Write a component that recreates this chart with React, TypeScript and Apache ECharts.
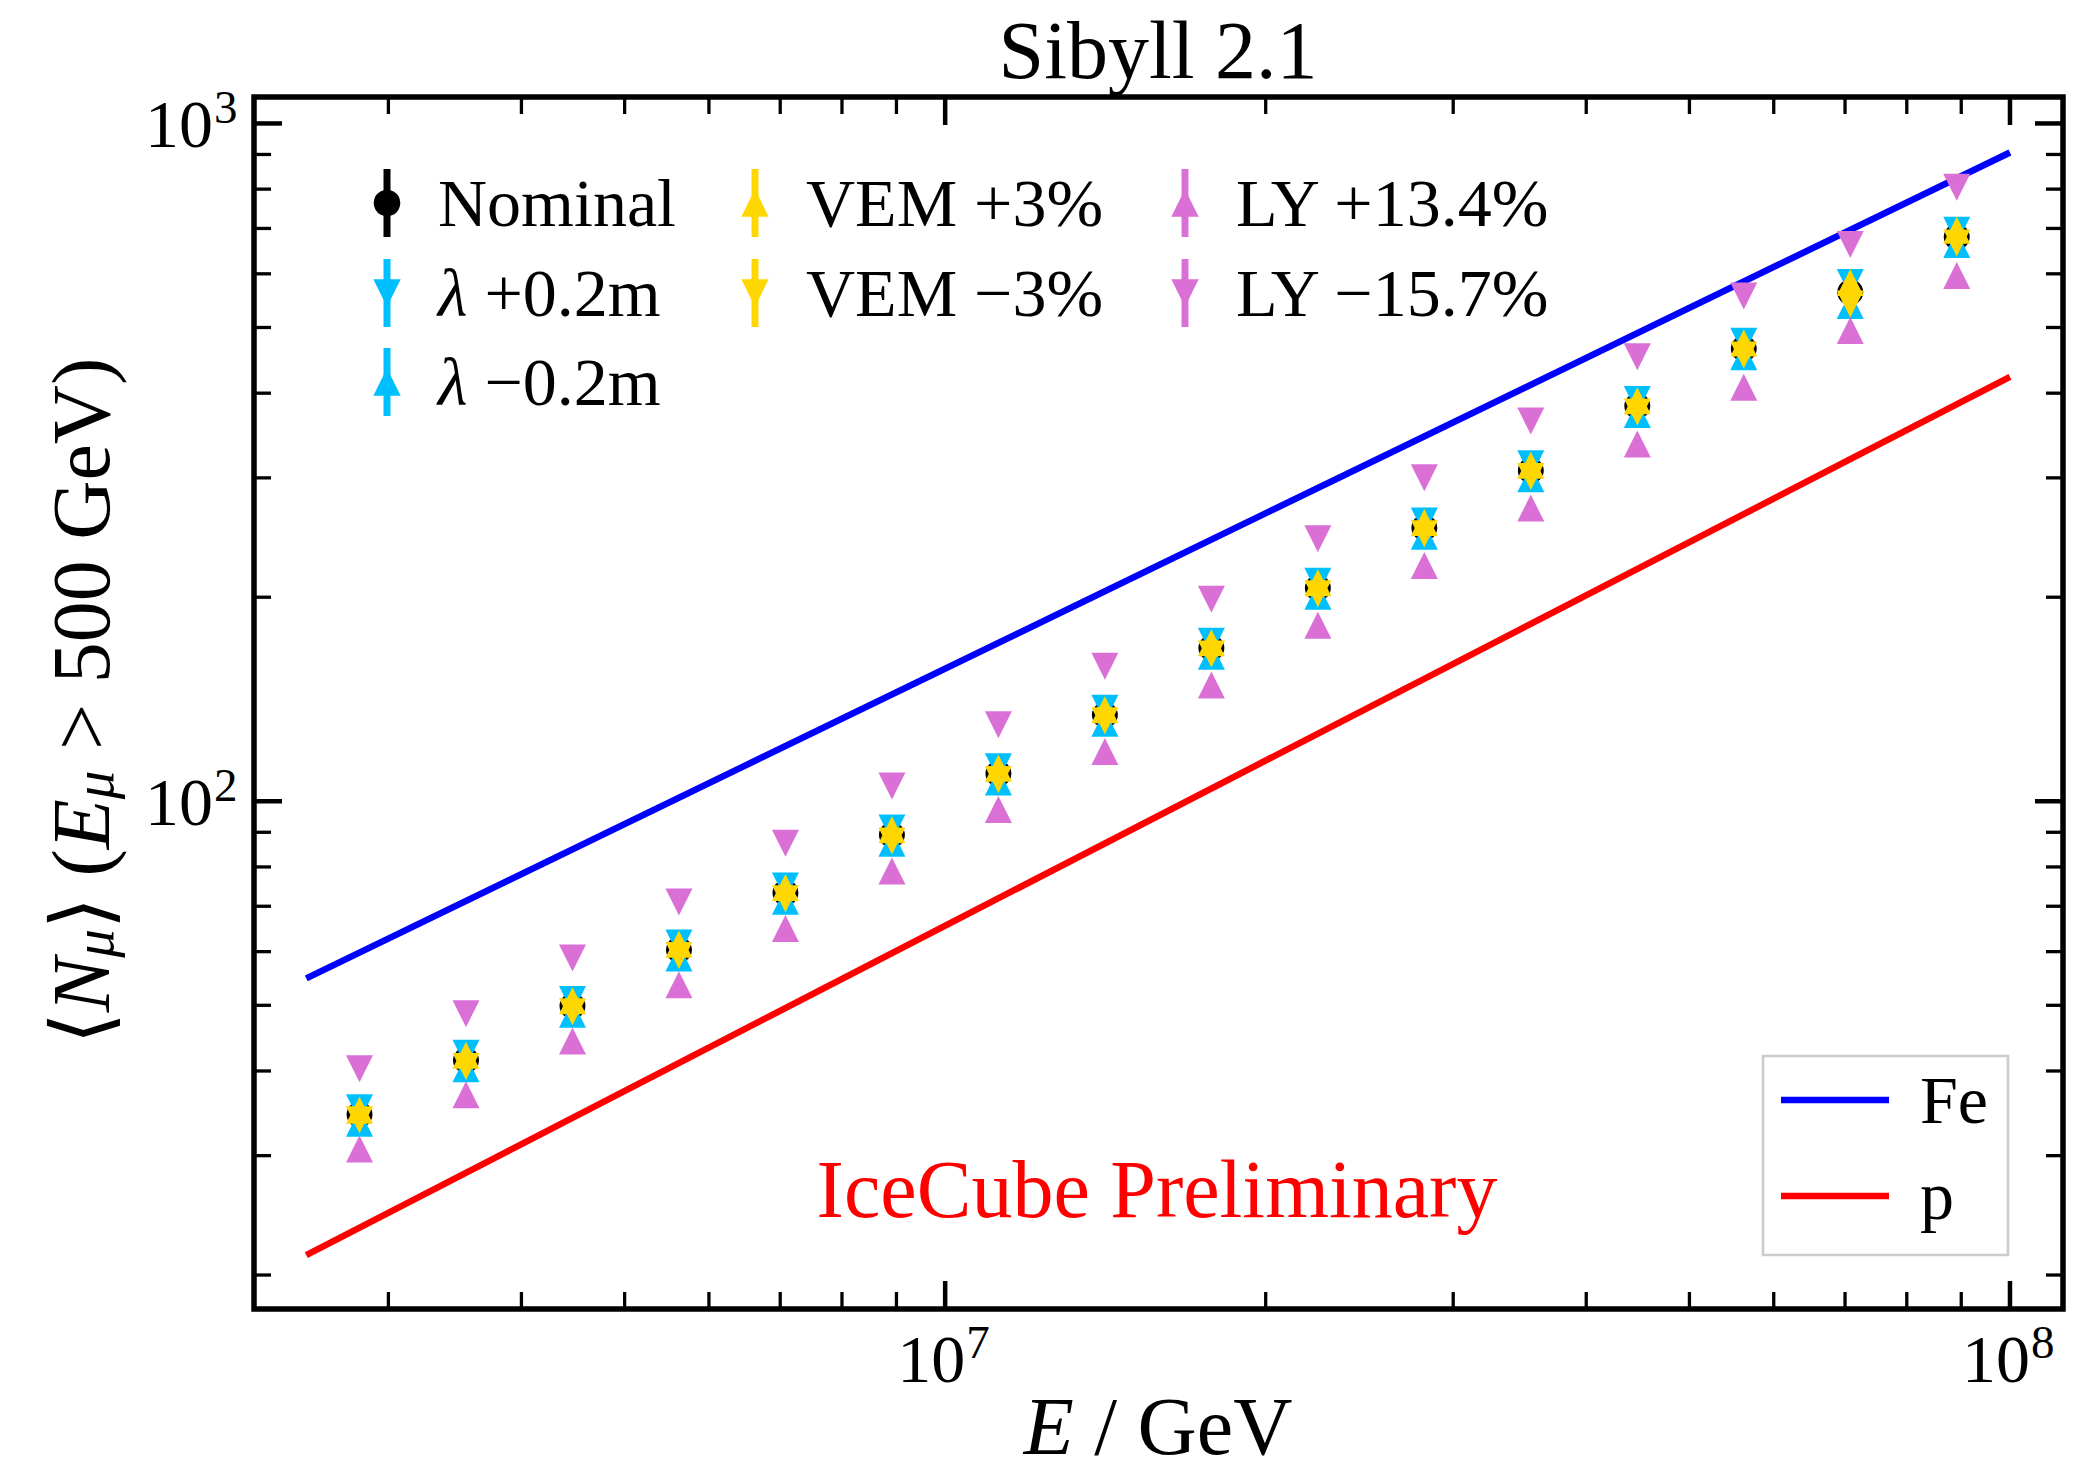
import React, { useEffect, useRef } from 'react';
import * as echarts from 'echarts';

// Primary energy bin centres, GeV
const energyGeV = [2818383, 3548134, 4466836, 5623413, 7079458, 8912509, 11220185, 14125375, 17782794, 22387211, 28183829, 35481339, 44668359, 56234133, 70794578, 89125094];

// Mean muon number <N_mu> (E_mu > 500 GeV) per bin
const nominal = [34.5, 41.5, 49.9, 60.4, 73.3, 89.2, 109.9, 134.1, 168.3, 206.4, 253.2, 307.6, 382.8, 465.6, 563.6, 680.0];
const lambdaPlus = [35.3, 42.5, 51.0, 61.8, 75.0, 91.3, 112.4, 137.2, 172.2, 211.1, 259.0, 314.7, 391.6, 477.2, 582.8, 695.6];
const lambdaMinus = [33.5, 40.3, 48.5, 58.7, 71.2, 86.7, 106.8, 130.3, 163.6, 200.6, 246.1, 299.0, 372.1, 452.6, 538.8, 663.0];
const vemPlus = [35.0, 42.2, 50.8, 61.5, 74.6, 90.8, 111.9, 136.5, 171.3, 210.1, 257.8, 313.1, 389.7, 474.4, 582.8, 695.6];
const vemMinus = [33.9, 40.6, 48.9, 59.2, 71.8, 87.4, 107.7, 131.4, 164.9, 202.3, 248.1, 301.4, 375.1, 455.4, 541.6, 666.4];
const lyPlus = [30.7, 36.9, 44.3, 53.6, 64.9, 78.9, 97.2, 118.4, 148.4, 181.8, 222.8, 270.7, 336.5, 408.3, 494.8, 596.4];
const lyMinus = [40.3, 48.6, 58.7, 71.0, 86.7, 105.3, 129.7, 158.2, 198.6, 244.0, 300.0, 363.9, 452.5, 556.4, 662.8, 805.1];

// Sibyll 2.1 expectations for pure iron and pure proton primaries
const modelEnergy = [2511886, 100000000];
const ironNmu = [54.8, 906];
const protonNmu = [21.4, 422.8];

// Tick positions (major ticks at the decades)
const xTickValues = [3e6, 4e6, 5e6, 6e6, 7e6, 8e6, 9e6, 1e7, 2e7, 3e7, 4e7, 5e7, 6e7, 7e7, 8e7, 9e7, 1e8];
const yTickValues = [20, 30, 40, 50, 60, 70, 80, 90, 100, 200, 300, 400, 500, 600, 700, 800, 900, 1000];

const X_MIN = 2.2434e6;
const X_MAX = 1.1215e8;
const Y_MIN = 17.82;
const Y_MAX = 1094;

const SERIF = "'Liberation Serif', 'Times New Roman', 'DejaVu Serif', serif";

const tok = (size: number, italic: boolean, lineHeight: number, va?: string, fill = '#000') => ({
  font: `${italic ? 'italic ' : ''}${size}px ${SERIF}`,
  fontSize: size,
  fontFamily: SERIF,
  fontStyle: italic ? 'italic' : 'normal',
  lineHeight,
  verticalAlign: va,
  fill,
  color: fill,
});

const labelRich = {
  r: tok(82, false, 82),
  i: tok(82, true, 82),
  sub: tok(57, true, 40, 'bottom'),
};

const xLabelRich = {
  r: tok(82, false, 60),
  i: tok(82, true, 60),
};

const legendRich = {
  r: tok(68, false, 68),
  i: tok(68, true, 68),
};

const isDecade = (v: number) => Math.abs(Math.log10(v) - Math.round(Math.log10(v))) < 1e-9;

type Marker = 'circle' | 'up' | 'down';
const legendEntries: { text: string; color: string; marker: Marker; col: number; row: number }[] = [
  { text: '{r|Nominal}', color: '#000000', marker: 'circle', col: 0, row: 0 },
  { text: '{i|λ}{r| +0.2m}', color: '#00BFFF', marker: 'down', col: 0, row: 1 },
  { text: '{i|λ}{r| −0.2m}', color: '#00BFFF', marker: 'up', col: 0, row: 2 },
  { text: '{r|VEM +3%}', color: '#FFD700', marker: 'up', col: 1, row: 0 },
  { text: '{r|VEM −3%}', color: '#FFD700', marker: 'down', col: 1, row: 1 },
  { text: '{r|LY +13.4%}', color: '#DA70D6', marker: 'up', col: 2, row: 0 },
  { text: '{r|LY −15.7%}', color: '#DA70D6', marker: 'down', col: 2, row: 1 },
];
const legendColX = [387, 755, 1185];
const legendRowY = [203, 293, 382];

function legendGraphics() {
  const els: any[] = [];
  legendEntries.forEach((e) => {
    const cx = legendColX[e.col];
    const cy = legendRowY[e.row];
    els.push({
      type: 'rect',
      shape: { x: cx - 3.5, y: cy - 34, width: 7, height: 68 },
      style: { fill: e.color },
      silent: true,
    });
    if (e.marker === 'circle') {
      els.push({ type: 'circle', shape: { cx, cy, r: 13.3 }, style: { fill: e.color }, silent: true });
    } else {
      const h = 13.7;
      const pts = e.marker === 'up'
        ? [[cx, cy - h], [cx + h, cy + h], [cx - h, cy + h]]
        : [[cx - h, cy - h], [cx + h, cy - h], [cx, cy + h]];
      els.push({ type: 'polygon', shape: { points: pts }, style: { fill: e.color }, silent: true });
    }
    els.push({
      type: 'text',
      x: cx + 51,
      y: cy,
      style: {
        text: e.text,
        x: 0,
        y: 0,
        align: 'left',
        textAlign: 'left',
        verticalAlign: 'middle',
        textVerticalAlign: 'middle',
        rich: legendRich,
        fill: '#000',
      },
      silent: true,
    });
  });

  // Composition reference legend (Fe / p)
  els.push({
    type: 'rect',
    shape: { x: 1763, y: 1056, width: 245, height: 199 },
    style: { fill: '#ffffff', stroke: '#cccccc', lineWidth: 2.7 },
    silent: true,
    z: 20,
  });
  const comp = [
    { name: 'Fe', color: '#0000FF', y: 1100 },
    { name: 'p', color: '#FF0000', y: 1196 },
  ];
  comp.forEach((c) => {
    els.push({
      type: 'line',
      shape: { x1: 1781, y1: c.y, x2: 1889, y2: c.y },
      style: { stroke: c.color, lineWidth: 6.5 },
      silent: true,
      z: 21,
    });
    els.push({
      type: 'text',
      x: 1920,
      y: c.y,
      style: {
        text: `{r|${c.name}}`,
        x: 0,
        y: 0,
        align: 'left',
        textAlign: 'left',
        verticalAlign: 'middle',
        textVerticalAlign: 'middle',
        rich: legendRich,
        fill: '#000',
      },
      silent: true,
      z: 21,
    });
  });
  return els;
}

function textGraphics() {
  return [
    {
      type: 'text',
      x: 1158,
      y: 50,
      style: {
        text: '{r|Sibyll 2.1}',
        x: 0, y: 0,
        align: 'center', textAlign: 'center',
        verticalAlign: 'middle', textVerticalAlign: 'middle',
        rich: labelRich, fill: '#000',
      },
      silent: true,
    },
    {
      type: 'text',
      x: 1157,
      y: 1189,
      style: {
        text: '{r|IceCube Preliminary}',
        x: 0, y: 0,
        align: 'center', textAlign: 'center',
        verticalAlign: 'middle', textVerticalAlign: 'middle',
        rich: { r: tok(82, false, 82, undefined, '#FF0000') },
        fill: '#FF0000',
      },
      silent: true,
    },
    {
      type: 'text',
      x: 1158,
      y: 1426,
      style: {
        text: '{i|E}{r| / GeV}',
        x: 0, y: 0,
        align: 'center', textAlign: 'center',
        verticalAlign: 'middle', textVerticalAlign: 'middle',
        rich: xLabelRich, fill: '#000',
      },
      silent: true,
    },
    {
      type: 'text',
      x: 81,
      y: 701,
      rotation: Math.PI / 2,
      style: {
        text: '{r|⟨}{i|N}{sub|μ}{r|⟩ (}{i|E}{sub|μ}{r| > 500 GeV)}',
        x: 0, y: 0,
        align: 'center', textAlign: 'center',
        verticalAlign: 'middle', textVerticalAlign: 'middle',
        rich: labelRich, fill: '#000',
      },
      silent: true,
    },
  ];
}

function tickLine(x1: number, y1: number, x2: number, y2: number, major: boolean) {
  return {
    type: 'line',
    shape: { x1, y1, x2, y2 },
    style: { stroke: '#000', lineWidth: major ? 4.5 : 3.3 },
  };
}

// "10" with the exponent as a raised, smaller number; (xr, y) is the right end of the
// mantissa and the vertical centre of its digits
function decadeLabel(v: number, xr: number, y: number) {
  const exp = String(Math.round(Math.log10(v)));
  return [
    {
      type: 'text',
      style: {
        text: '10', x: xr, y,
        font: `68px ${SERIF}`, fontSize: 68, fontFamily: SERIF,
        align: 'right', textAlign: 'right',
        verticalAlign: 'middle', textVerticalAlign: 'middle',
        fill: '#000',
      },
    },
    {
      type: 'text',
      style: {
        text: exp, x: xr + 1, y: y - 17,
        font: `47px ${SERIF}`, fontSize: 47, fontFamily: SERIF,
        align: 'left', textAlign: 'left',
        verticalAlign: 'middle', textVerticalAlign: 'middle',
        fill: '#000',
      },
    },
  ];
}

function scatter(name: string, values: number[], color: string, symbol: string, rotate: number, size: number) {
  return {
    type: 'scatter',
    name,
    data: energyGeV.map((e, i) => [e, values[i]]),
    symbol,
    symbolSize: size,
    symbolRotate: rotate,
    itemStyle: { color, opacity: 1 },
    z: 3,
    silent: true,
  };
}

export default function App() {
  const ref = useRef<HTMLDivElement>(null);

  useEffect(() => {
    if (!ref.current) return;
    const chart = echarts.init(ref.current, undefined, { renderer: 'svg' });

    const option: any = {
      animation: false,
      backgroundColor: '#ffffff',
      grid: {
        left: 254,
        right: 32,
        top: 97,
        bottom: 164,
        show: true,
        borderColor: '#000',
        borderWidth: 5.5,
        backgroundColor: 'transparent',
        containLabel: false,
        outerBoundsMode: 'none',
      },
      xAxis: {
        type: 'log',
        logBase: 10,
        min: X_MIN,
        max: X_MAX,
        axisLine: { show: false },
        axisTick: { show: false },
        axisLabel: { show: false },
        splitLine: { show: false },
        minorTick: { show: false },
        minorSplitLine: { show: false },
      },
      yAxis: {
        type: 'log',
        logBase: 10,
        min: Y_MIN,
        max: Y_MAX,
        axisLine: { show: false },
        axisTick: { show: false },
        axisLabel: { show: false },
        splitLine: { show: false },
        minorTick: { show: false },
        minorSplitLine: { show: false },
      },
      graphic: { elements: [...textGraphics(), ...legendGraphics()] },
      series: [
        {
          type: 'line',
          name: 'Fe',
          data: modelEnergy.map((e, i) => [e, ironNmu[i]]),
          showSymbol: false,
          symbol: 'none',
          lineStyle: { color: '#0000FF', width: 6.5 },
          z: 1,
          silent: true,
        },
        {
          type: 'line',
          name: 'p',
          data: modelEnergy.map((e, i) => [e, protonNmu[i]]),
          showSymbol: false,
          symbol: 'none',
          lineStyle: { color: '#FF0000', width: 6.5 },
          z: 1,
          silent: true,
        },
        scatter('Nominal', nominal, '#000000', 'circle', 0, 26),
        scatter('λ +0.2m', lambdaPlus, '#00BFFF', 'triangle', 180, 27),
        scatter('λ −0.2m', lambdaMinus, '#00BFFF', 'triangle', 0, 27),
        scatter('VEM +3%', vemPlus, '#FFD700', 'triangle', 0, 27),
        scatter('VEM −3%', vemMinus, '#FFD700', 'triangle', 180, 27),
        scatter('LY +13.4%', lyPlus, '#DA70D6', 'triangle', 0, 27),
        scatter('LY −15.7%', lyMinus, '#DA70D6', 'triangle', 180, 27),
        {
          type: 'custom',
          name: 'x ticks',
          data: xTickValues.map((v) => [v, Y_MIN]),
          clip: false,
          silent: true,
          z: 10,
          renderItem: (params: any, api: any) => {
            const v = api.value(0);
            const cs = params.coordSys;
            const x = api.coord([v, Y_MIN])[0];
            const major = isDecade(v);
            const len = major ? 28 : 17;
            const top = cs.y;
            const bottom = cs.y + cs.height;
            const children: any[] = [
              tickLine(x, bottom, x, bottom - len, major),
              tickLine(x, top, x, top + len, major),
            ];
            if (major) children.push(...decadeLabel(v, x + 20, bottom + 50));
            return { type: 'group', children };
          },
        },
        {
          type: 'custom',
          name: 'y ticks',
          data: yTickValues.map((v) => [X_MIN, v]),
          clip: false,
          silent: true,
          z: 10,
          renderItem: (params: any, api: any) => {
            const v = api.value(1);
            const cs = params.coordSys;
            const y = api.coord([X_MIN, v])[1];
            const major = isDecade(v);
            const len = major ? 28 : 17;
            const left = cs.x;
            const right = cs.x + cs.width;
            const children: any[] = [
              tickLine(left, y, left + len, y, major),
              tickLine(right, y, right - len, y, major),
            ];
            if (major) children.push(...decadeLabel(v, left - 41, y + 1));
            return { type: 'group', children };
          },
        },
      ],
    };

    chart.setOption(option);
    return () => chart.dispose();
  }, []);

  return (
    <div
      ref={ref}
      style={{ position: 'fixed', left: 0, top: 0, width: 2095, height: 1473, background: '#ffffff' }}
    />
  );
}
